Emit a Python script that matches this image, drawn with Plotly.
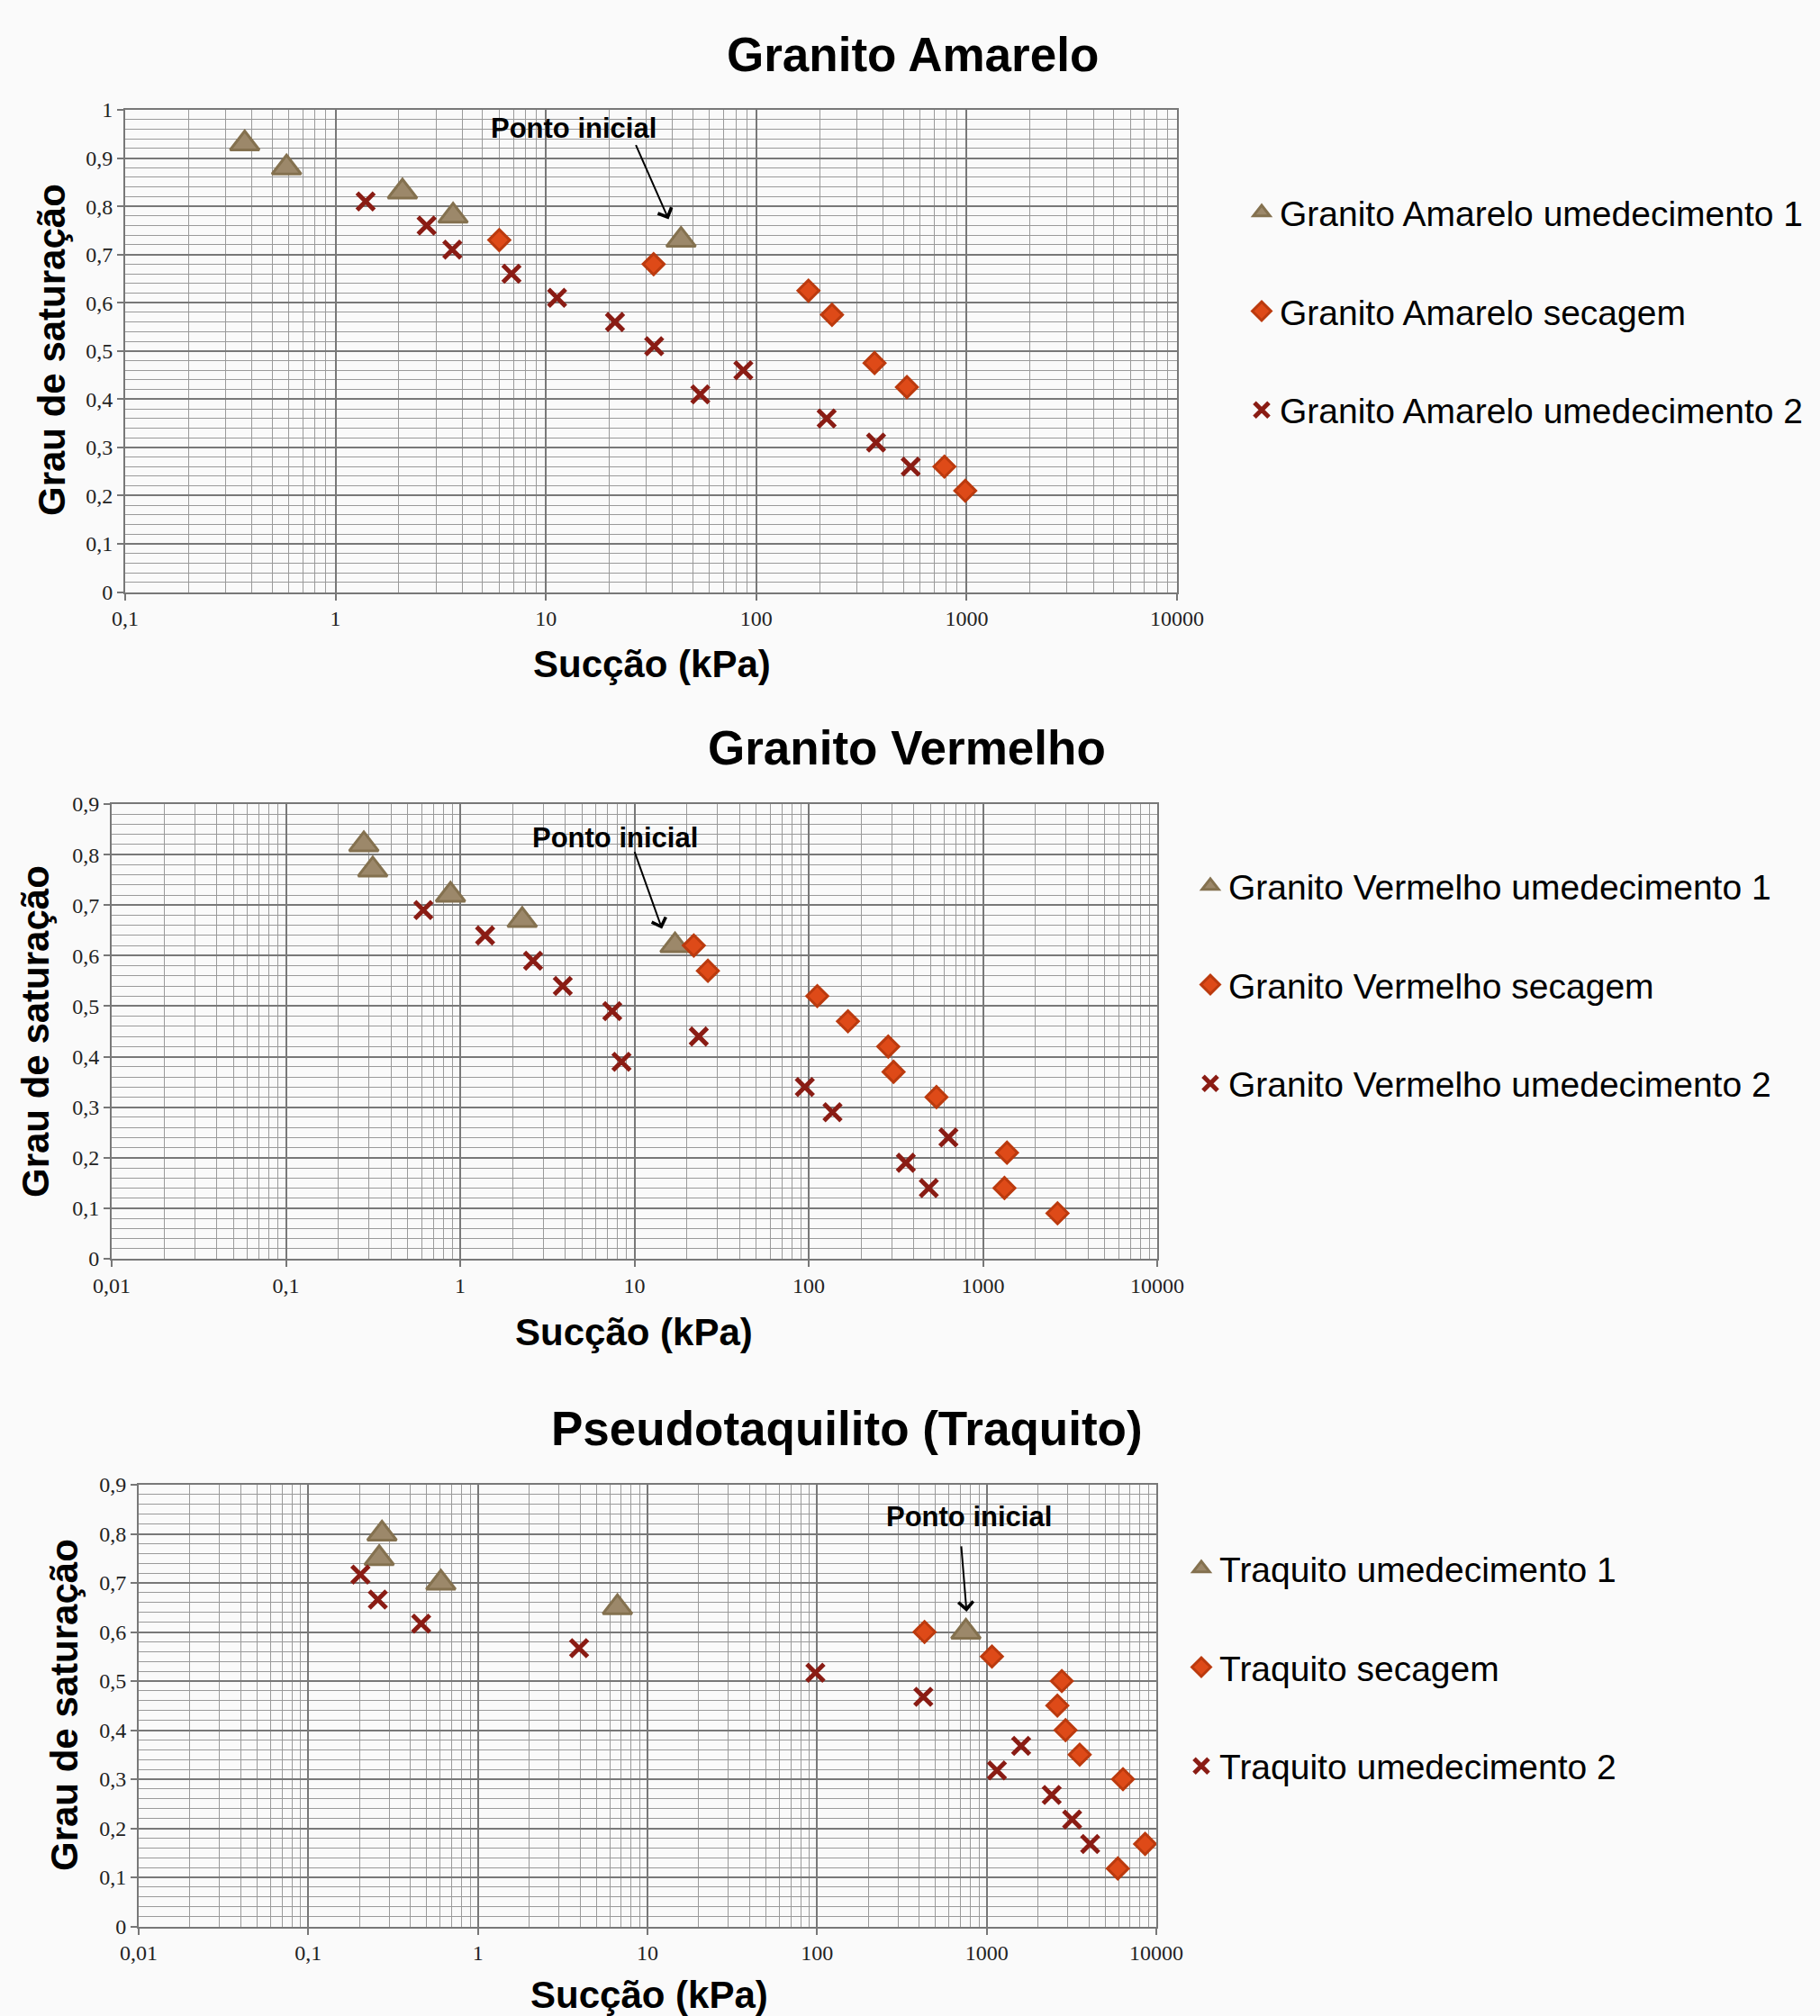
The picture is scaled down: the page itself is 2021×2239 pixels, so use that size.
import numpy as np
import plotly.graph_objects as go

# ---------------- data ----------------
# Granito Amarelo
ga_u1_x = [0.37, 0.585, 2.08, 3.62, 43.9]
ga_u1_y = [0.93, 0.88, 0.83, 0.78, 0.73]
ga_sec_x = [6.0, 32.5, 177, 229, 365, 520, 784, 985]
ga_sec_y = [0.73, 0.68, 0.625, 0.575, 0.475, 0.425, 0.26, 0.21]
ga_u2_x = [1.39, 2.71, 3.59, 6.86, 11.3, 21.3, 32.7, 54.2, 86.8, 216, 371, 542]
ga_u2_y = [0.81, 0.76, 0.71, 0.66, 0.61, 0.56, 0.51, 0.41, 0.46, 0.36, 0.31, 0.26]

# Granito Vermelho
gv_u1_x = [0.28, 0.315, 0.88, 2.27, 17.1]
gv_u1_y = [0.82, 0.77, 0.72, 0.67, 0.62]
gv_sec_x = [21.9, 26.4, 112, 168, 286, 307, 541, 1374, 1329, 2679]
gv_sec_y = [0.62, 0.57, 0.52, 0.47, 0.42, 0.37, 0.32, 0.21, 0.14, 0.09]
gv_u2_x = [0.615, 1.39, 2.62, 3.88, 7.46, 8.43, 23.4, 95, 137, 634, 361, 489]
gv_u2_y = [0.69, 0.64, 0.59, 0.54, 0.49, 0.39, 0.44, 0.34, 0.29, 0.24, 0.19, 0.14]

# Pseudotaquilito (Traquito)
tq_u1_x = [0.272, 0.262, 0.605, 6.65, 754]
tq_u1_y = [0.80, 0.75, 0.70, 0.65, 0.60]
tq_sec_x = [430, 1074, 2772, 2610, 2917, 3535, 6363, 8590, 5930]
tq_sec_y = [0.60, 0.55, 0.50, 0.45, 0.40, 0.35, 0.30, 0.168, 0.118]
tq_u2_x = [0.203, 0.257, 0.463, 3.95, 97.7, 423, 1596, 1149, 2417, 3190, 4074]
tq_u2_y = [0.717, 0.666, 0.617, 0.567, 0.517, 0.468, 0.368, 0.318, 0.268, 0.218, 0.168]

# "Ponto inicial" arrow targets (x in kPa, y saturation)
ponto_x = [38.3, 14.4, 761]
ponto_y = [0.773, 0.653, 0.6415]

titles = ["Granito Amarelo", "Granito Vermelho", "Pseudotaquilito (Traquito)"]
series_names = [
    ["Granito Amarelo umedecimento 1", "Granito Amarelo secagem", "Granito Amarelo umedecimento 2"],
    ["Granito Vermelho umedecimento 1", "Granito Vermelho secagem", "Granito Vermelho umedecimento 2"],
    ["Traquito umedecimento 1", "Traquito secagem", "Traquito umedecimento 2"],
]
x_tickvals = [[0.1, 1, 10, 100, 1000, 10000],
              [0.01, 0.1, 1, 10, 100, 1000, 10000],
              [0.01, 0.1, 1, 10, 100, 1000, 10000]]
x_ticktext = [["0,1", "1", "10", "100", "1000", "10000"],
              ["0,01", "0,1", "1", "10", "100", "1000", "10000"],
              ["0,01", "0,1", "1", "10", "100", "1000", "10000"]]
y_tickvals = [[0, 0.1, 0.2, 0.3, 0.4, 0.5, 0.6, 0.7, 0.8, 0.9, 1.0],
              [0, 0.1, 0.2, 0.3, 0.4, 0.5, 0.6, 0.7, 0.8, 0.9],
              [0, 0.1, 0.2, 0.3, 0.4, 0.5, 0.6, 0.7, 0.8, 0.9]]
y_ticktext = [["0", "0,1", "0,2", "0,3", "0,4", "0,5", "0,6", "0,7", "0,8", "0,9", "1"],
              ["0", "0,1", "0,2", "0,3", "0,4", "0,5", "0,6", "0,7", "0,8", "0,9"],
              ["0", "0,1", "0,2", "0,3", "0,4", "0,5", "0,6", "0,7", "0,8", "0,9"]]
x_label = "Sucção (kPa)"
y_label = "Grau de saturação"
ponto_label = "Ponto inicial"

# ---------------- style ----------------
W, H = 2021, 2239
SANS = "Liberation Sans, Arial, sans-serif"
SERIF = "Liberation Serif, Times New Roman, serif"
TRI_FILL, TRI_LINE = "#9c886a", "#84714f"
DIA_FILL, DIA_LINE = "#de4a18", "#bb3a0e"
X_COL = "#8a1c14"
MAJ_GRID, MIN_GRID = "#787878", "#9a9a9a"

# plot areas in pixels: left, right, top, bottom
areas = [(139, 1307, 122, 657.5), (124, 1285, 893, 1398), (154, 1284, 1649, 2139.5)]
xranges = [[-1, 4], [-2, 4], [-2, 4]]
yranges = [[0, 1.0], [0, 0.9], [0, 0.9]]
title_pos = [(1014, 60), (1007, 830), (940, 1587)]
ytitle_pos = [(57, 389), (39, 1146), (71, 1894)]
xtitle_pos = [(724, 737), (704, 1479), (721, 2215)]
ponto_text_pos = [(637, 143), (683, 930), (1076, 1685)]
ponto_arrow_off = [(-37, -84), (-31, -87), (-6, -74)]
legend_pos = [(1381, 204), (1324, 952), (1314, 1710)]

data = [
    (ga_u1_x, ga_u1_y, ga_sec_x, ga_sec_y, ga_u2_x, ga_u2_y),
    (gv_u1_x, gv_u1_y, gv_sec_x, gv_sec_y, gv_u2_x, gv_u2_y),
    (tq_u1_x, tq_u1_y, tq_sec_x, tq_sec_y, tq_u2_x, tq_u2_y),
]

fig = go.Figure()
annotations = []
layout = {}

for i in range(3):
    sfx = "" if i == 0 else str(i + 1)
    xa, ya = "x" + sfx, "y" + sfx
    leg = "legend" + sfx
    u1x, u1y, sx, sy, u2x, u2y = data[i]
    fig.add_trace(go.Scatter(x=u1x, y=u1y, mode="markers", name=series_names[i][0],
                             xaxis=xa, yaxis=ya, legend=leg, legendgroup=f"g{i}a",
                             marker=dict(symbol="triangle-up", size=28, color=TRI_FILL,
                                         line=dict(color=TRI_LINE, width=3))))
    fig.add_trace(go.Scatter(x=sx, y=sy, mode="markers", name=series_names[i][1],
                             xaxis=xa, yaxis=ya, legend=leg, legendgroup=f"g{i}b",
                             marker=dict(symbol="diamond", size=18, color=DIA_FILL,
                                         line=dict(color=DIA_LINE, width=3))))
    fig.add_trace(go.Scatter(x=u2x, y=u2y, mode="markers", name=series_names[i][2],
                             xaxis=xa, yaxis=ya, legend=leg, legendgroup=f"g{i}c",
                             marker=dict(symbol="x-thin", size=19, color=X_COL,
                                         line=dict(color=X_COL, width=5))))

    l, r, t, b = areas[i]
    layout["xaxis" + sfx] = dict(
        type="log", range=xranges[i], domain=[l / W, r / W], anchor=ya, automargin=False,
        tickmode="array", tickvals=x_tickvals[i], ticktext=x_ticktext[i],
        tickfont=dict(family=SERIF, size=24, color="#222"),
        ticks="outside", ticklen=7, tickcolor="#777", tickwidth=2,
        showgrid=True, gridcolor=MAJ_GRID, gridwidth=2,
        minor=dict(dtick="D1", showgrid=True, gridcolor=MIN_GRID, gridwidth=1.3),
        showline=True, linecolor="#787878", linewidth=2, mirror=True,
        zeroline=False, fixedrange=True)
    layout["yaxis" + sfx] = dict(
        range=yranges[i], domain=[1 - b / H, 1 - t / H], anchor=xa, automargin=False,
        tickmode="array", tickvals=y_tickvals[i], ticktext=y_ticktext[i],
        tickfont=dict(family=SERIF, size=24, color="#222"),
        ticks="outside", ticklen=7, tickcolor="#777", tickwidth=2,
        showgrid=True, gridcolor=MAJ_GRID, gridwidth=2,
        minor=dict(dtick=0.02, showgrid=True, gridcolor=MIN_GRID, gridwidth=1.3),
        showline=True, linecolor="#787878", linewidth=2, mirror=True,
        zeroline=False, fixedrange=True)

    lx, ly = legend_pos[i]
    layout[leg] = dict(x=lx / W, y=1 - ly / H, xanchor="left", yanchor="top",
                       bgcolor="rgba(0,0,0,0)", font=dict(family=SANS, size=39, color="#000"),
                       tracegroupgap=56, itemsizing="trace")

    # title
    tx, ty = title_pos[i]
    annotations.append(dict(text=f"<b>{titles[i]}</b>", x=tx / W, y=1 - ty / H, xref="paper", yref="paper",
                            showarrow=False, font=dict(family=SANS, size=53, color="#000"),
                            xanchor="center", yanchor="middle"))
    # axis titles
    yx, yy = ytitle_pos[i]
    annotations.append(dict(text=f"<b>{y_label}</b>", x=yx / W, y=1 - yy / H, xref="paper", yref="paper",
                            showarrow=False, textangle=-90, font=dict(family=SANS, size=42, color="#000"),
                            xanchor="center", yanchor="middle"))
    xx, xy = xtitle_pos[i]
    annotations.append(dict(text=f"<b>{x_label}</b>", x=xx / W, y=1 - xy / H, xref="paper", yref="paper",
                            showarrow=False, font=dict(family=SANS, size=42, color="#000"),
                            xanchor="center", yanchor="middle"))
    # Ponto inicial
    px, py = ponto_text_pos[i]
    annotations.append(dict(text=f"<b>{ponto_label}</b>", x=px / W, y=1 - py / H, xref="paper", yref="paper",
                            showarrow=False, font=dict(family=SANS, size=31, color="#000"),
                            xanchor="center", yanchor="middle"))
    ax, ay = ponto_arrow_off[i]
    annotations.append(dict(text="", x=np.log10(ponto_x[i]), y=ponto_y[i], xref=xa, yref=ya,
                            showarrow=True, ax=ax, ay=ay, arrowhead=4, arrowsize=1.6,
                            arrowwidth=2, arrowcolor="#000", standoff=0))

fig.update_layout(
    template="none",
    width=W, height=H, margin=dict(l=0, r=0, t=0, b=0, autoexpand=False),
    paper_bgcolor="#fafafa", plot_bgcolor="rgba(0,0,0,0)",
    showlegend=True, annotations=annotations, **layout)

fig.write_html("out.html", config={"displayModeBar": False},
               post_script="document.body.style.margin='0';document.body.style.overflow='hidden';")
